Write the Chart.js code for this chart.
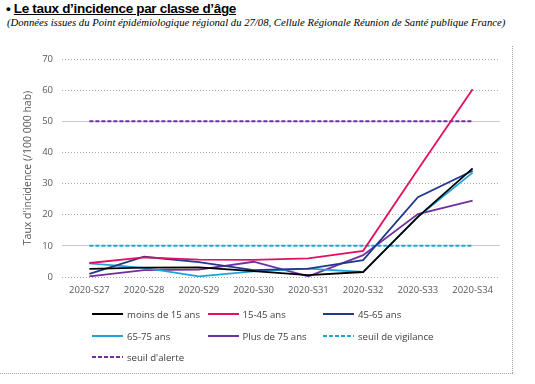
<!DOCTYPE html>
<html lang="fr">
<head>
<meta charset="utf-8">
<script src="https://cdn.jsdelivr.net/npm/chart.js@4"></script>
<style>
  html, body { margin: 0; padding: 0; background: #fff; }
  body { width: 535px; height: 384px; position: relative; overflow: hidden; }
  #title { position: absolute; left: 6px; top: 1px; font: bold 13.5px "Liberation Sans", Arial, sans-serif; letter-spacing: -0.33px; color: #000; white-space: nowrap; }
  #title span { text-decoration: underline; }
  #subtitle { position: absolute; left: 7px; top: 16px; font: italic 10.7px "Liberation Serif", "Times New Roman", serif; color: #000; white-space: nowrap; }
  #wrap { position: absolute; left: 0; top: 0; width: 535px; height: 384px; }
  #frameR { position: absolute; left: 512px; top: 46px; width: 0; height: 327px; border-left: 1px dotted #A0A0A0; }
  #frameB { position: absolute; left: 0; top: 373px; width: 513px; height: 0; border-top: 1px dotted #A0A0A0; }
  #legend { position: absolute; left: 92px; top: 308px; width: 360px; font: 9.6px "Open Sans", sans-serif; color: #404040; }
  .item { position: absolute; height: 14px; line-height: 14px; white-space: nowrap; }
  .item canvas { vertical-align: middle; margin-right: 4px; position: relative; top: -1px; }
</style>
</head>
<body>
<div id="title">• <span>Le taux d’incidence par classe d’âge</span></div>
<div id="subtitle">(Données issues du Point épidémiologique régional du 27/08, Cellule Régionale Réunion de Santé publique France)</div>
<div id="wrap"><canvas id="c" width="535" height="384"></canvas></div>
<div id="frameR"></div>
<div id="frameB"></div>
<div id="legend"></div>
<script>
// ---- data ----
const weeks = ["2020-S27", "2020-S28", "2020-S29", "2020-S30", "2020-S31", "2020-S32", "2020-S33", "2020-S34"];
const moins15 = [2.6, 3.0, 3.1, 1.9, 0.6, 1.6, 19.3, 34.9];
const ans15_45 = [4.5, 6.3, 5.6, 5.5, 6.0, 8.4, 34.5, 60.3];
const ans45_65 = [1.0, 6.5, 4.8, 2.2, 2.7, 5.4, 25.6, 34.1];
const ans65_75 = [4.4, 2.9, 0.2, 1.8, 2.7, 1.6, 19.3, 33.5];
const plus75 = [0.2, 2.2, 2.4, 4.9, 0.2, 7.0, 20.2, 24.5];
const seuilVigilance = [10, 10, 10, 10, 10, 10, 10, 10];
const seuilAlerte = [50, 50, 50, 50, 50, 50, 50, 50];
const yTicks = [0, 10, 20, 30, 40, 50, 60, 70];
const solidGridValues = [10, 50];

const seriesDefs = [
  { label: "moins de 15 ans", data: moins15, color: "#000000", dash: [] },
  { label: "15-45 ans", data: ans15_45, color: "#E2105F", dash: [] },
  { label: "45-65 ans", data: ans45_65, color: "#1F3A8C", dash: [] },
  { label: "65-75 ans", data: ans65_75, color: "#1DA5DA", dash: [] },
  { label: "Plus de 75 ans", data: plus75, color: "#7030A0", dash: [] },
  { label: "seuil de vigilance", data: seuilVigilance, color: "#1DA5DA", dash: [4, 2] },
  { label: "seuil d'alerte", data: seuilAlerte, color: "#7030A0", dash: [4, 2] }
];

const datasets = seriesDefs.map(s => ({
  label: s.label,
  data: s.data,
  borderColor: s.color,
  backgroundColor: s.color,
  borderWidth: s.dash.length ? 2 : 1.8,
  borderDash: s.dash,
  pointRadius: 0,
  tension: 0,
  fill: false
}));

const tickFont = { family: "'Open Sans', sans-serif", size: 9.5 };

new Chart(document.getElementById('c'), {
  type: 'line',
  data: { labels: weeks, datasets: datasets },
  options: {
    responsive: false,
    animation: false,
    layout: { padding: { top: 59, right: 35, bottom: 84, left: 0 } },
    plugins: { legend: { display: false }, tooltip: { enabled: false } },
    scales: {
      x: {
        type: 'category',
        offset: true,
        grid: { display: false, drawTicks: false },
        border: { display: false },
        ticks: { color: "#595959", font: tickFont, padding: 8, maxRotation: 0, autoSkip: false },
        afterFit: s => { s.height = 23; }
      },
      y: {
        min: 0, max: 70,
        afterBuildTicks: s => { s.ticks = yTicks.map(v => ({ value: v })); },
        grid: {
          drawTicks: false,
          color: ctx => solidGridValues.includes(ctx.tick && ctx.tick.value) ? 'rgba(0,0,0,0)' : '#ABABAB',
          lineWidth: 1
        },
        border: { display: false, dash: [1, 2] },
        ticks: { color: "#595959", font: tickFont, padding: 9 },
        title: { display: true, text: "Taux d'incidence (/100 000 hab)", color: "#595959", font: { family: "'Open Sans', sans-serif", size: 10.5 }, padding: { top: 22, bottom: 0 } },
        afterFit: s => { s.width = 62; }
      },
      y2: {
        position: 'right',
        min: 0, max: 70,
        afterBuildTicks: s => { s.ticks = solidGridValues.map(v => ({ value: v })); },
        grid: { drawTicks: false, color: '#C8C8C8', lineWidth: 1 },
        border: { display: false },
        ticks: { display: false },
        afterFit: s => { s.width = 0; }
      }
    }
  }
});

// HTML legend built from the datasets
const legend = document.getElementById('legend');
const colX = [0, 115.5, 231];
const rowY = [0, 21.5, 43];
seriesDefs.forEach((s, i) => {
  const item = document.createElement('div');
  item.className = 'item';
  item.style.left = colX[i % 3] + 'px';
  item.style.top = rowY[Math.floor(i / 3)] + 'px';
  const cv = document.createElement('canvas');
  cv.width = 31; cv.height = 6;
  const g = cv.getContext('2d');
  g.strokeStyle = s.color;
  g.lineWidth = 2;
  g.setLineDash(s.dash);
  g.beginPath(); g.moveTo(0, 3); g.lineTo(31, 3); g.stroke();
  item.appendChild(cv);
  item.appendChild(document.createTextNode(s.label));
  legend.appendChild(item);
});
</script>
</body>
</html>
